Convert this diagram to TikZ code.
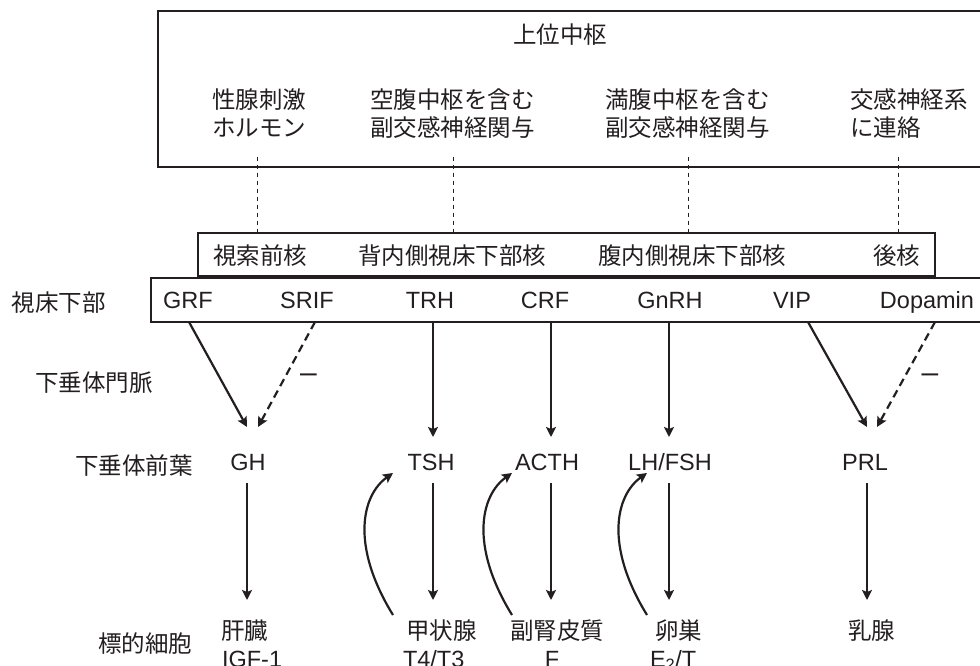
\documentclass[tikz,border=0pt]{standalone}
\usepackage{fontspec}
\setmainfont{Liberation Sans}
\newfontfamily\jp{Noto Sans CJK JP}
\usetikzlibrary{arrows.meta}
\definecolor{ink}{RGB}{35,31,32}
\begin{document}
\begin{tikzpicture}[x=1pt,y=-1pt,
  every node/.style={inner sep=0pt, outer sep=0pt, text=ink},
  jtext/.style={font=\jp\fontsize{23.5}{28}\selectfont, anchor=base west},
  ltext/.style={font=\fontsize{23.5}{28}\selectfont, anchor=base},
  thinbox/.style={draw=ink, line width=1.5pt, anchor=north west},
  thickbox/.style={draw=ink, line width=2.8pt, anchor=north west},
  guide/.style={draw=ink, line width=1pt, dash pattern=on 4pt off 4pt},
  arr/.style={draw=ink, line width=2.2pt, -{Stealth[length=10pt,width=10pt,inset=2pt]}},
  darr/.style={arr, dash pattern=on 8pt off 5pt},
  fb/.style={arr},
  minus/.style={font=\fontsize{30}{30}\selectfont, anchor=base},
]
\useasboundingbox (0,0) rectangle (980,666);

% boxes
\node[thinbox, minimum width=832pt, minimum height=156pt] (topbox) at (158,11) {};
\node[thinbox, minimum width=737pt, minimum height=43pt] (nucbox) at (198,233) {};
\node[thickbox, minimum width=839pt, minimum height=44pt] (hypbox) at (151,278) {};

% top box text
\node[jtext, anchor=base] (upper) at (560,44) {上位中枢};
\node[jtext] (t1a) at (212,109) {性腺刺激};
\node[jtext] (t1b) at (212,137) {ホルモン};
\node[jtext] (t2a) at (370,109) {空腹中枢を含む};
\node[jtext] (t2b) at (370,137) {副交感神経関与};
\node[jtext] (t3a) at (605,109) {満腹中枢を含む};
\node[jtext] (t3b) at (605,137) {副交感神経関与};
\node[jtext] (t4a) at (850,109) {交感神経系};
\node[jtext] (t4b) at (850,137) {に連絡};

% nuclei
\node[jtext] (n1) at (213,264) {視索前核};
\node[jtext] (n2) at (358,264) {背内側視床下部核};
\node[jtext] (n3) at (598,264) {腹内側視床下部核};
\node[jtext] (n4) at (873,264) {後核};

% dashed guides
\foreach \i/\x in {1/257,2/453,3/688,4/898}{
  \coordinate (g\i t) at (\x,157);
  \coordinate (g\i b) at (\x,233);
  \draw[guide] (g\i t) -- (g\i b);
}

% left labels
\node[jtext] (lhyp) at (12,311) {視床下部};
\node[jtext] (lport) at (35,391) {下垂体門脈};
\node[jtext] (lant) at (75,474) {下垂体前葉};
\node[jtext] (ltgt) at (98,652) {標的細胞};

% hypothalamic hormones
\node[ltext] (grf) at (188,308.5) {GRF};
\node[ltext] (srif) at (307,308.5) {SRIF};
\node[ltext] (trh) at (430,308.5) {TRH};
\node[ltext] (crf) at (545,308.5) {CRF};
\node[ltext] (gnrh) at (670,308.5) {GnRH};
\node[ltext] (vip) at (792,308.5) {VIP};
\node[ltext] (dopa) at (927,308.5) {Dopamin};

% pituitary hormones
\node[ltext] (gh) at (248,470.5) {GH};
\node[ltext] (tsh) at (431,470.5) {TSH};
\node[ltext] (acth) at (547,470.5) {ACTH};
\node[ltext] (lhfsh) at (670,470.5) {LH/FSH};
\node[ltext] (prl) at (865,470.5) {PRL};

% minus signs
\node[minus] (m1) at (308.5,382) {\textendash};
\node[minus] (m2) at (930,382) {\textendash};

% targets
\node[jtext] (liver) at (221,639) {肝臓};
\node[ltext, anchor=base west] (igf) at (222,667) {IGF-1};
\node[jtext] (thy) at (406,639) {甲状腺};
\node[ltext, anchor=base west] (t43) at (403,667) {T4/T3};
\node[jtext] (adr) at (510,639) {副腎皮質};
\node[ltext] (ff) at (552,667) {F};
\node[jtext] (ova) at (655,639) {卵巣};
\node[ltext, anchor=base west] (e2t) at (650,667) {E\textsubscript{2}/T};
\node[jtext] (mam) at (848,639) {乳腺};

% arrow endpoints
\coordinate (grfS) at (189,322);  \coordinate (ghA) at (247,427);
\coordinate (srifS) at (315,322); \coordinate (ghB) at (258,427);
\coordinate (trhS) at (433,322);  \coordinate (tshA) at (433,437);
\coordinate (crfS) at (551,322);  \coordinate (acthA) at (551,437);
\coordinate (gnS) at (669,322);   \coordinate (lhA) at (669,437);
\coordinate (vipS) at (808,322);  \coordinate (prlA) at (867,427);
\coordinate (dopS) at (935,322);  \coordinate (prlB) at (877,427);

\draw[arr] (grfS) -- (ghA);
\draw[darr] (srifS) -- (ghB);
\draw[arr] (trhS) -- (tshA);
\draw[arr] (crfS) -- (acthA);
\draw[arr] (gnS) -- (lhA);
\draw[arr] (vipS) -- (prlA);
\draw[darr] (dopS) -- (prlB);

% down arrows
\foreach \n/\x in {gh/247,tsh/433,acth/551,lh/669,prl/867}{
  \coordinate (\n D) at (\x,483);
  \coordinate (\n T) at (\x,600);
  \draw[arr] (\n D) -- (\n T);
}

% feedback curves
\foreach \n/\x/\a/\b in {thyF/393/350/362,adrF/512/469/481,ovaF/647/604/616}{
  \coordinate (\n s) at (\x,615);
  \coordinate (\n e) at (\x,473);
  \draw[fb] (\n s) .. controls (\a,545) and (\b,495) .. (\n e);
}
\end{tikzpicture}
\end{document}
